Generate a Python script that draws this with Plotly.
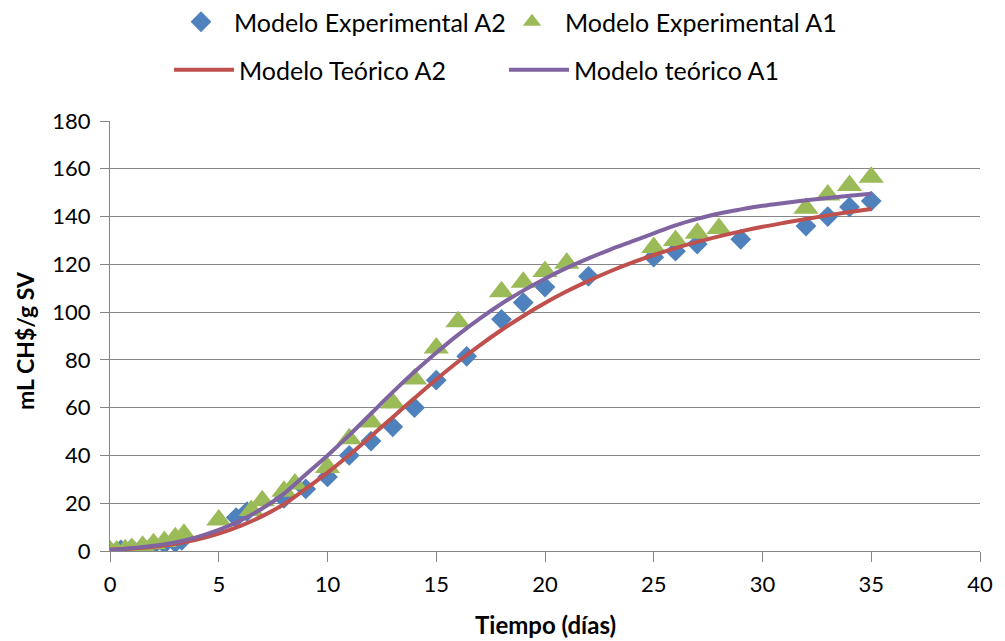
import plotly.graph_objects as go

# Experimental data A2 (blue diamonds)
a2_x = [0, 0.5, 1, 1.5, 2, 2.5, 3, 3.3, 5.8, 6.3, 8, 9, 10, 11, 12, 13, 14, 15, 16.4, 18, 19, 20, 22, 25, 26, 27, 29, 32, 33, 34, 35]
a2_y = [0, 0.5, 1, 1.5, 2.5, 3, 3.5, 4.5, 14, 16.5, 22, 26, 31, 40, 46, 52, 60, 71.5, 81.5, 97, 104, 110.5, 115, 123, 125.5, 128.5, 130.5, 136, 140, 144, 146.5]

# Experimental data A1 (green triangles)
a1_x = [0, 0.3, 0.7, 1, 1.5, 2, 2.5, 3, 3.4, 5, 6.5, 7, 8, 8.5, 10, 11, 12, 13, 14, 15, 16, 18, 19, 20, 21, 25, 26, 27, 28, 32, 33, 34, 35]
a1_y = [0, 0, 0.5, 1, 2, 3, 4, 5.5, 7, 13, 17, 21, 25, 28, 35, 47, 54, 62, 72, 85, 96, 108.5, 112.5, 117, 120.5, 127, 130, 133, 135, 143.5, 149, 153, 156.5]

# Theoretical model curves
t_x = list(range(0, 36))
t_a2 = [0.5, 1, 1.8, 3, 4.8, 7.3, 10.5, 14.6, 19.6, 26, 32.8, 40.2, 48, 56, 64, 71.8, 79.2, 86.1, 92.5, 98.4,
        103.8, 108.7, 113.1, 117.1, 120.7, 123.9, 126.8, 129.4, 131.7, 133.8, 135.7, 137.4, 139, 140.5, 141.9, 143.2]
t_a1 = [0.5, 1.2, 2.2, 3.6, 5.8, 8.8, 12.8, 17.8, 24, 32, 40, 48.5, 57.5, 66.5, 75, 83, 90.5, 97.3, 103.5, 109,
        114, 118.5, 122.5, 126.2, 129.6, 133, 136.3, 139, 141.3, 143, 144.5, 145.7, 146.8, 147.8, 148.7, 149.5]

x_ticks = [0, 5, 10, 15, 20, 25, 30, 35, 40]
y_ticks = [0, 20, 40, 60, 80, 100, 120, 140, 160, 180]

FONT = "Lato"
GRAY = "#868686"

fig = go.Figure()
fig.add_trace(go.Scatter(x=a2_x, y=a2_y, mode="markers", name="Modelo Experimental A2", showlegend=True,
                         marker=dict(symbol="diamond", size=16, color="#4F81BD"), legend="legend"))
fig.add_trace(go.Scatter(x=a1_x, y=a1_y, mode="markers", name="Modelo Experimental A1", showlegend=True,
                         marker=dict(symbol="triangle-up", size=22, color="#9BBB59"), legend="legend2"))
fig.add_trace(go.Scatter(x=t_x, y=t_a2, mode="lines", name="Modelo Teórico A2", showlegend=True,
                         line=dict(color="#C0504D", width=4, shape="spline"), legend="legend3"))
fig.add_trace(go.Scatter(x=t_x, y=t_a1, mode="lines", name="Modelo teórico A1", showlegend=True,
                         line=dict(color="#8064A2", width=4, shape="spline"), legend="legend4"))


def leg(x_px, y_px, iw):
    return dict(orientation="h", xref="container", yref="container", x=x_px / 1005,
                y=1 - y_px / 641, xanchor="left", yanchor="middle", itemwidth=iw,
                font=dict(family=FONT, size=25), bgcolor="rgba(0,0,0,0)")


fig.update_layout(
    width=1005, height=641,
    showlegend=True,
    margin=dict(l=110, r=18, t=121, b=90),
    paper_bgcolor="white", plot_bgcolor="white",
    font=dict(family=FONT, size=20, color="black"),
    legend=leg(168, 22, 56),
    legend2=leg(499, 22, 56),
    legend3=leg(169, 70, 60),
    legend4=leg(504, 70, 60),
    xaxis=dict(range=[0, 40], tickvals=x_ticks, showgrid=False, zeroline=False,
               showline=True, linecolor=GRAY, linewidth=1, ticks="outside", ticklen=10,
               tickcolor=GRAY, tickfont=dict(size=22), ticklabelstandoff=4),
    yaxis=dict(range=[0, 180], tickvals=y_ticks, showgrid=True, gridcolor=GRAY, gridwidth=1,
               zeroline=False, showline=True, linecolor=GRAY, linewidth=1, ticks="outside",
               ticklen=9, tickcolor=GRAY, tickfont=dict(size=22), ticklabelstandoff=5),
    annotations=[
        dict(text="<b>Tiempo (días)</b>", xref="paper", yref="paper", x=0.5, y=-0.17,
             xanchor="center", yanchor="middle", showarrow=False, font=dict(size=24)),
        dict(text="<b>mL CH$/g SV</b>", xref="paper", yref="paper", x=-0.097, y=0.49,
             xanchor="center", yanchor="middle", showarrow=False, textangle=-90,
             font=dict(size=23)),
    ],
)

fig.write_html("out.html")
